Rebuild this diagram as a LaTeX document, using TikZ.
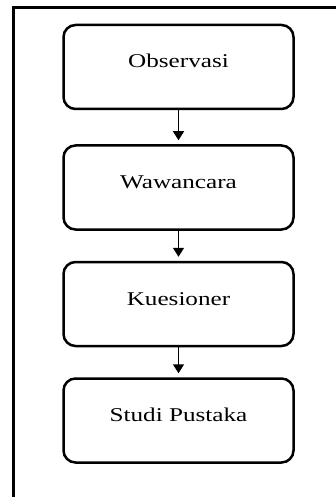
\documentclass[tikz,border=0pt]{standalone}
\usepackage{fontspec}
\newfontfamily\boxfont{Liberation Serif}[FakeStretch=1.29]
\usetikzlibrary{positioning,arrows.meta}

\tikzset{
    langkah/.style={draw, rounded corners=12pt, line width=2.5pt, minimum width=230pt, minimum height=84pt, text height=14pt, text depth=12pt, font=\boxfont\fontsize{19.5pt}{22pt}\selectfont},
    panah/.style={line width=1.5pt, -{Triangle[length=9pt,width=11pt]}, shorten >=4pt}
}

\begin{document}
\begin{tikzpicture}[x=1pt,y=1pt]
        %BATAS
        \useasboundingbox (0,0) rectangle (335,-497);
        %BINGKAI
        \draw[line width=3pt] (13.5,-510) -- (13.5,-7.5) -- (345,-7.5);
        %LANGKAH
        \node[langkah] (obs) at (178.5,-67) {Observasi};
        \node[langkah, below=34pt of obs] (waw) {Wawancara};
        \node[langkah, below=30pt of waw] (kue) {Kuesioner};
        \node[langkah, below=30pt of kue] (stu) {Studi Pustaka};
        %PANAH
        \draw[panah] (obs) -- (waw);
        \draw[panah] (waw) -- (kue);
        \draw[panah] (kue) -- (stu);
    \end{tikzpicture}
\end{document}
